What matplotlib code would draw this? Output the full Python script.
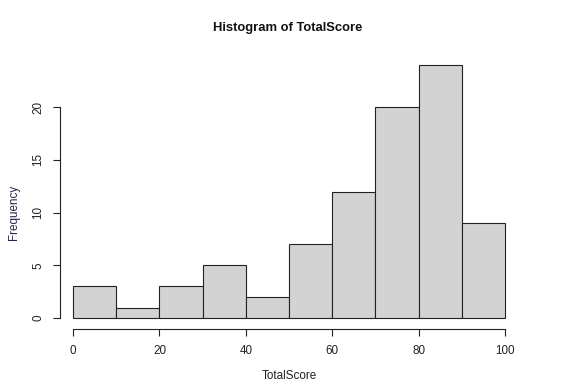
import numpy as np
import matplotlib
matplotlib.use("Agg")
import matplotlib.pyplot as plt

''' Data '''
bin_edges = [0, 10, 20, 30, 40, 50, 60, 70, 80, 90, 100]
counts = [3, 1, 3, 5, 2, 7, 12, 20, 24, 9]
x_ticks = [0, 20, 40, 60, 80, 100]
y_ticks = [0, 5, 10, 15, 20]

plt.rcParams['font.family'] = ['Liberation Sans', 'DejaVu Sans']

fig = plt.figure(figsize=(5.68, 3.89), dpi=100)
ax = fig.add_axes([60 / 568, 60 / 389, 458 / 568, 274 / 389])

lefts = np.array(bin_edges[:-1])
widths = np.diff(bin_edges)
ax.bar(lefts, counts, width=widths, align='edge', color='#d3d3d3',
       edgecolor='#222222', linewidth=0.8)

ax.set_xlim(-3, 103)
ax.set_ylim(-1.04, 24.96)

for s in ['top', 'right']:
    ax.spines[s].set_visible(False)
ax.spines['left'].set_bounds(0, 20)
ax.spines['bottom'].set_bounds(0, 100)
for s in ['left', 'bottom']:
    ax.spines[s].set_linewidth(0.8)
    ax.spines[s].set_color('#222222')

ax.set_xticks(x_ticks)
ax.set_yticks(y_ticks)
ax.tick_params(axis='both', length=5, width=0.8, color='#222222',
               labelsize=8.4, labelcolor='#222222')
ax.tick_params(axis='x', pad=6.5)
ax.tick_params(axis='y', pad=6.5)
plt.setp(ax.get_yticklabels(), rotation=90, va='center')

fig.text(14 / 568, 1 - 212 / 389, 'Frequency', rotation=90, ha='center',
         va='center', fontsize=8.4, color='#222244')
fig.text(289 / 568, 1 - 376 / 389, 'TotalScore', ha='center', va='center',
         fontsize=8.4, color='#222222')
fig.text(288 / 568, 1 - 28 / 389, 'Histogram of TotalScore', ha='center',
         va='center', fontsize=9.4, fontweight='bold', color='#111111')

fig.savefig('out.png', dpi=100)
